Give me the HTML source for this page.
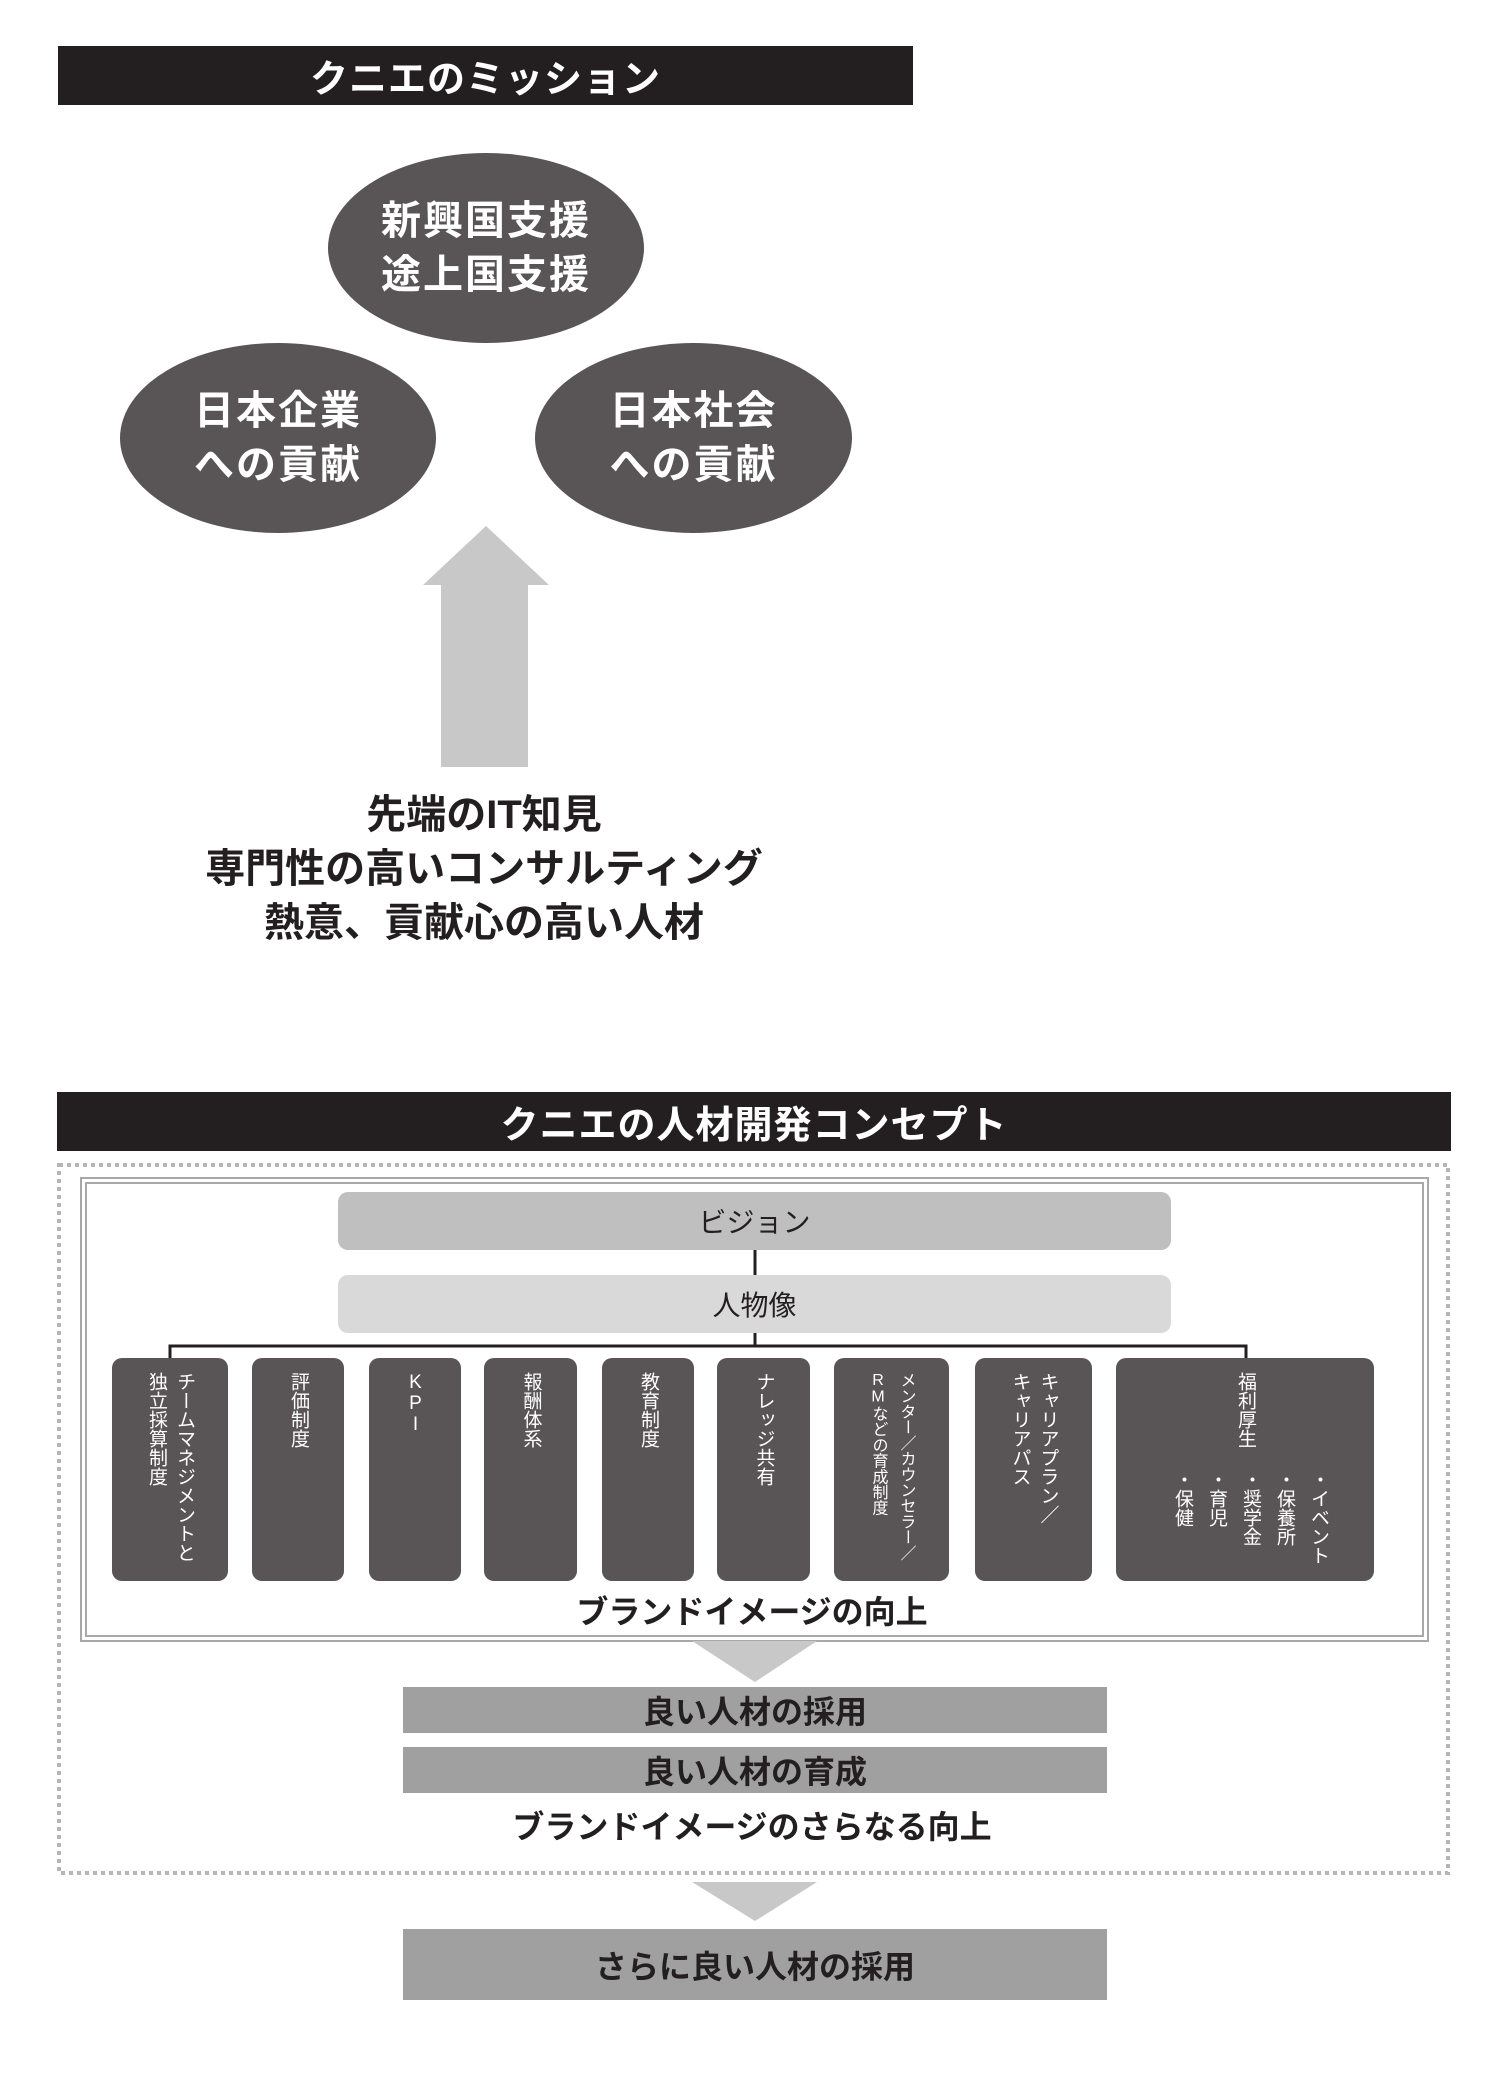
<!DOCTYPE html>
<html><head><meta charset="utf-8"><style>
*{margin:0;padding:0;box-sizing:border-box}
body{width:1500px;height:2100px;background:#fff;position:relative;font-family:"Liberation Sans","Noto Sans CJK JP",sans-serif;overflow:hidden}
.a{position:absolute}
.bar{background:#231f20;color:#fff;font-weight:bold;font-size:38px;display:flex;align-items:center;justify-content:center;letter-spacing:1px}
.ell{background:#595556;border-radius:50%;color:#fff;font-weight:bold;font-size:40px;line-height:54px;display:flex;align-items:center;justify-content:center;text-align:center;letter-spacing:2px}
.txt{font-weight:bold;color:#231f20;text-align:center;width:1500px}
.col{background:#595556;border-radius:10px;color:#fff;display:flex;justify-content:center;align-items:flex-start;padding-top:14px}
.col span{writing-mode:vertical-rl;text-orientation:upright;font-size:19px;line-height:28px;white-space:nowrap}
.gb{background:#a0a0a0;color:#231f20;font-weight:bold;font-size:32px;display:flex;align-items:center;justify-content:center}
</style></head><body>
<div class="a bar" style="left:58px;top:46px;width:855px;height:59px">クニエのミッション</div>
<div class="a ell" style="left:328px;top:153px;width:316px;height:190px">新興国支援<br>途上国支援</div>
<div class="a ell" style="left:120px;top:343px;width:316px;height:190px">日本企業<br>への貢献</div>
<div class="a ell" style="left:535px;top:343px;width:317px;height:190px">日本社会<br>への貢献</div>
<svg class="a" style="left:0;top:0" width="1500" height="2100">
<polygon points="486,526 549,585 528,585 528,767 441,767 441,585 423,585" fill="#c8c8c9"/>
<rect x="59" y="1165" width="1389" height="708" fill="none" stroke="#b5b5b5" stroke-width="4" stroke-dasharray="4,4"/>
<rect x="81" y="1178" width="1347" height="463" fill="none" stroke="#a8a8a8" stroke-width="2"/>
<rect x="86" y="1183" width="1337" height="453" fill="none" stroke="#a8a8a8" stroke-width="2"/>
<line x1="755" y1="1250" x2="755" y2="1275" stroke="#231f20" stroke-width="3"/>
<line x1="755" y1="1333" x2="755" y2="1346" stroke="#231f20" stroke-width="3"/>
<polyline points="170,1360 170,1346 1246,1346 1246,1360" fill="none" stroke="#231f20" stroke-width="3"/>
<polygon points="692,1641 817,1641 755,1682" fill="#c8c8c9"/>
<polygon points="692,1882 817,1882 755,1921" fill="#c8c8c9"/>
</svg>
<div class="a txt" style="top:788px;font-size:40px;line-height:54px;left:-266px">先端のIT知見<br>専門性の高いコンサルティング<br>熱意、貢献心の高い人材</div>
<div class="a bar" style="left:57px;top:1092px;width:1394px;height:59px">クニエの人材開発コンセプト</div>
<div class="a" style="left:338px;top:1192px;width:833px;height:58px;background:#bfbfbf;border-radius:10px;font-size:28px;display:flex;align-items:center;justify-content:center;color:#231f20">ビジョン</div>
<div class="a" style="left:338px;top:1275px;width:833px;height:58px;background:#d9d9da;border-radius:10px;font-size:28px;display:flex;align-items:center;justify-content:center;color:#231f20">人物像</div>
<div class="a col" style="left:112px;top:1358px;width:116px;height:223px"><span>チームマネジメントと<br>独立採算制度</span></div>
<div class="a col" style="left:252px;top:1358px;width:92px;height:223px"><span>評価制度</span></div>
<div class="a col" style="left:369px;top:1358px;width:92px;height:223px"><span>KPI</span></div>
<div class="a col" style="left:484px;top:1358px;width:93px;height:223px"><span>報酬体系</span></div>
<div class="a col" style="left:602px;top:1358px;width:92px;height:223px"><span>教育制度</span></div>
<div class="a col" style="left:717px;top:1358px;width:93px;height:223px"><span>ナレッジ共有</span></div>
<div class="a col" style="left:834px;top:1358px;width:115px;height:223px"><span style="font-size:16px;letter-spacing:-0.3px">メンター／カウンセラー／<br>RMなどの育成制度</span></div>
<div class="a col" style="left:975px;top:1358px;width:117px;height:223px"><span>キャリアプラン／<br>キャリアパス</span></div>
<div class="a col" style="left:1116px;top:1358px;width:258px;height:223px"><span>福利厚生</span></div>
<div class="a" style="left:1150px;top:1470px;width:200px;height:105px;display:flex;justify-content:center"><span style="writing-mode:vertical-rl;color:#fff;font-size:19px;line-height:34px;white-space:nowrap">・イベント<br>・保養所<br>・奨学金<br>・育児<br>・保健</span></div>
<div class="a txt" style="top:1590px;font-size:32px;line-height:44px;left:2px">ブランドイメージの向上</div>
<div class="a gb" style="left:403px;top:1687px;width:704px;height:46px">良い人材の採用</div>
<div class="a gb" style="left:403px;top:1747px;width:704px;height:46px">良い人材の育成</div>
<div class="a txt" style="top:1805px;font-size:32px;line-height:44px;left:2px">ブランドイメージのさらなる向上</div>
<div class="a gb" style="left:403px;top:1929px;width:704px;height:71px">さらに良い人材の採用</div>
</body></html>
